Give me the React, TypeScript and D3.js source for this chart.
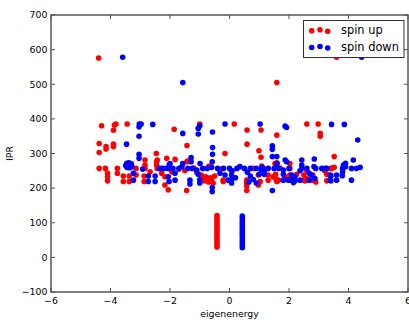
import React from "react";
import * as d3 from "d3";

const xTicks = [-6, -4, -2, 0, 2, 4, 6];
const yTicks = [-100, 0, 100, 200, 300, 400, 500, 600, 700];

const spinUp: [number, number][] = [
  [-4.4, 576], [3.6, 578], [1.59, 505],
  [-4.3, 380], [-3.87, 382], [-3.82, 385], [-3.9, 367], [-3.44, 385], [-1.86, 370], [-1.0, 385],
  [-1.05, 373], [0.16, 385], [0.59, 368], [1.06, 368], [2.6, 385], [2.98, 385], [3.05, 358], [3.05, 350], [1.59, 353],
  [-4.38, 329], [-4.38, 303], [-4.15, 320], [-4.15, 313], [-3.9, 327], [-3.9, 320], [-2.46, 300], [-2.84, 281],
  [-2.45, 276], [-2.45, 267], [-1.43, 323], [-0.15, 300], [0.59, 327], [0.99, 308], [-1.83, 283], [-1.43, 276],
  [-0.69, 264], [1.59, 273], [2.03, 271], [1.08, 264], [3.52, 291], [-2.11, 286], [-1.41, 278], [1.06, 289], [1.53, 271],
  [-4.38, 257], [-4.17, 257], [-4.1, 243], [-4.1, 233], [-4.1, 221], [-3.77, 257], [-3.77, 243], [-3.57, 235],
  [-3.57, 219], [-3.37, 235], [-3.37, 219], [-3.14, 257], [-3.14, 238], [-2.84, 267], [-2.84, 257], [-2.87, 235],
  [-2.87, 219], [-2.67, 247], [-2.43, 281], [-2.43, 257], [-2.28, 243], [-2.17, 233], [-2.17, 209],
  [-2.06, 195], [-1.94, 247], [-1.44, 193], [-0.95, 238], [-0.9, 228], [-0.85, 221], [-0.8, 233], [-0.75, 225],
  [-0.7, 218], [-0.65, 230], [-0.6, 222], [-0.55, 214], [-0.5, 235], [-0.21, 223], [-0.21, 219], [0.58, 223], [0.58, 206],
  [0.58, 193], [0.58, 214], [0.97, 209], [0.97, 238], [1.03, 219], [1.3, 238], [1.3, 223], [1.47, 233], [1.55, 240],
  [1.55, 228], [1.59, 219], [1.64, 223], [1.87, 233], [2.03, 257], [2.03, 238], [2.03, 223], [2.15, 228], [2.26, 240],
  [2.5, 238], [2.5, 223], [2.6, 250], [2.6, 228], [2.54, 221], [2.8, 238], [2.8, 223], [2.9, 218], [3.2, 250],
  [3.27, 240], [3.27, 221], [3.43, 257], [3.41, 257], [3.52, 260], [-1.7, 255], [-1.2, 258], [-0.3, 255],
  [0.1, 250], [0.8, 257], [1.2, 255], [1.7, 258], [-2.0, 258], [-1.5, 250], [-1.1, 245],
  [-0.42, 30], [-0.42, 37], [-0.42, 44], [-0.42, 51], [-0.42, 58], [-0.42, 65], [-0.42, 72], [-0.42, 79],
  [-0.42, 86], [-0.42, 93], [-0.42, 100], [-0.42, 107], [-0.42, 114], [-0.42, 121],
];

const spinDown: [number, number][] = [
  [-3.59, 578], [4.44, 578], [-1.57, 505],
  [-3.03, 385], [-2.97, 385], [-3.04, 377], [-2.58, 384], [-3.04, 350], [-1.57, 358], [-1.05, 373], [-1.0, 380],
  [-1.05, 356], [-0.57, 362], [-0.15, 385], [1.03, 385], [1.87, 379], [1.92, 375], [3.43, 384], [3.86, 384],
  [4.31, 339], [-3.46, 327],
  [-3.04, 298], [-3.04, 286], [-0.57, 317], [-0.57, 298], [-0.58, 276], [-1.29, 288], [-1.29, 276], [-2.0, 271],
  [-1.57, 271], [-0.99, 271], [1.44, 322], [1.44, 312], [1.44, 291], [1.59, 291], [1.6, 271], [1.87, 281], [1.92, 276],
  [2.43, 281], [2.43, 267], [2.85, 284], [2.84, 262], [3.9, 272], [3.9, 262], [4.16, 281], [3.83, 267], [-2.03, 267],
  [-3.49, 265], [-3.45, 272], [-3.38, 273], [-3.3, 270], [-3.28, 262], [-3.36, 259], [-3.45, 260],
  [-3.23, 243], [-3.23, 223], [-2.92, 255], [-2.73, 235], [-2.73, 219], [-2.5, 235], [-2.5, 219], [-2.36, 257],
  [-2.28, 257], [-2.06, 233], [-2.06, 257], [-2.03, 219], [-1.83, 243], [-1.83, 223], [-1.33, 223], [-1.33, 212],
  [-1.1, 252], [-1.05, 240], [-1.0, 224], [-1.0, 215], [-0.58, 202], [-0.58, 190], [-0.32, 243], [0.07, 250],
  [0.07, 238], [0.07, 225], [0.07, 215], [-0.15, 238], [-0.04, 223], [0.2, 230], [0.6, 246], [0.7, 235], [0.8, 225],
  [0.9, 215], [1.0, 240], [0.65, 218], [1.06, 254], [1.44, 193], [1.17, 250], [1.17, 240], [1.81, 252], [1.81, 240],
  [1.81, 223], [2.15, 223], [2.15, 216], [1.98, 223], [2.09, 238], [2.2, 233], [2.2, 221], [2.37, 250], [2.37, 223],
  [2.43, 257], [2.68, 243], [2.68, 223], [2.76, 238], [2.87, 228], [3.1, 257], [3.21, 257], [3.27, 257], [3.38, 238],
  [3.38, 223], [3.6, 238], [3.6, 223], [3.8, 257], [3.8, 247], [3.79, 236], [4.1, 257], [4.1, 223], [4.27, 257],
  [4.39, 260], [3.41, 236], [3.41, 221],
  [-2.2, 257], [-1.9, 257], [-1.7, 257], [-1.4, 257], [-1.25, 257], [-0.9, 257], [-0.75, 257], [-0.4, 257],
  [-0.2, 257], [0.0, 257], [0.25, 257], [0.5, 257], [0.7, 257], [0.9, 257], [1.3, 257], [1.5, 257], [1.65, 257],
  [2.0, 257], [2.6, 257], [2.9, 257], [-1.6, 262], [-0.6, 260], [0.35, 262], [1.1, 260],
  [0.43, 28], [0.43, 35], [0.43, 42], [0.43, 49], [0.43, 56], [0.43, 63], [0.43, 70], [0.43, 77],
  [0.43, 84], [0.43, 91], [0.43, 98], [0.43, 105], [0.43, 112], [0.43, 119],
];

const seriesNames = ["spin up", "spin down"];
const seriesColors = ["#ff0000", "#0000ff"];

const W = 409, H = 320;
const M = { left: 51, right: 408, top: 15, bottom: 292 };
const FONT = "DejaVu Sans, sans-serif";
const fmt = (v: number) => (v < 0 ? "\u2212" + Math.abs(v) : String(v));

export default function App() {
  const x = d3.scaleLinear().domain([-6, 6]).range([M.left, M.right]);
  const y = d3.scaleLinear().domain([-100, 700]).range([M.bottom, M.top]);
  const r = 2.8;
  const tl = 4;
  const axisColor = "#555";
  const data = [spinUp, spinDown];
  return (
    <svg width={W} height={H} style={{ position: "absolute", left: 0, top: 0, background: "#fff" }}>
      {data.map((pts, si) => (
        <g key={si} fill={seriesColors[si]}>
          {pts.map((p, i) => (
            <circle key={i} cx={x(p[0])} cy={y(p[1])} r={r} />
          ))}
        </g>
      ))}
      <rect x={M.left} y={M.top} width={M.right - M.left} height={M.bottom - M.top} fill="none" stroke={axisColor} strokeWidth={1.5} />
      {xTicks.map((t) => (
        <g key={"x" + t}>
          <line x1={x(t)} x2={x(t)} y1={M.bottom} y2={M.bottom - tl} stroke={axisColor} />
          <line x1={x(t)} x2={x(t)} y1={M.top} y2={M.top + tl} stroke={axisColor} />
          <text x={x(t)} y={304} textAnchor="middle" fontFamily={FONT} fontSize={9.4} fill="#000">{fmt(t)}</text>
        </g>
      ))}
      {yTicks.map((t) => (
        <g key={"y" + t}>
          <line x1={M.left} x2={M.left + tl} y1={y(t)} y2={y(t)} stroke={axisColor} />
          <line x1={M.right} x2={M.right - tl} y1={y(t)} y2={y(t)} stroke={axisColor} />
          <text x={47.5} y={y(t)} dy="0.35em" textAnchor="end" fontFamily={FONT} fontSize={9.4} fill="#000">{fmt(t)}</text>
        </g>
      ))}
      <text x={(M.left + M.right) / 2} y={317} textAnchor="middle" fontFamily={FONT} fontSize={9.4}>eigenenergy</text>
      <text transform={`translate(13,${(M.top + M.bottom) / 2}) rotate(-90)`} textAnchor="middle" fontFamily={FONT} fontSize={9.4}>IPR</text>
      <g>
        <rect x={303.5} y={20.5} width={100.5} height={37} fill="#fff" stroke="#333" strokeWidth={1} />
        {seriesNames.map((n, i) => {
          const cy = 30.5 + i * 16.7;
          return (
            <g key={n}>
              <circle cx={311.7} cy={cy + 0.3} r={r} fill={seriesColors[i]} />
              <circle cx={320} cy={cy - 0.7} r={r} fill={seriesColors[i]} />
              <circle cx={327.7} cy={cy + 0.8} r={r} fill={seriesColors[i]} />
              <text x={341} y={cy} dy="0.35em" fontFamily={FONT} fontSize={11.4}>{n}</text>
            </g>
          );
        })}
      </g>
    </svg>
  );
}
